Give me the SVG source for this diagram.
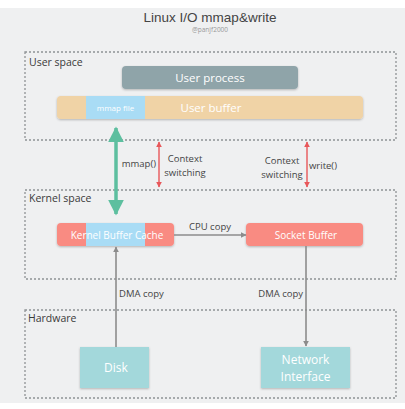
<svg xmlns="http://www.w3.org/2000/svg" width="405" height="409" viewBox="0 0 405 409">
<defs>
<style>
.t{font-family:"Open Sans","Noto Sans","Liberation Sans",sans-serif;}
.region{fill:none;stroke:#8e9295;stroke-width:1.3;stroke-dasharray:2,2;}
.rl{font-size:10.5px;fill:#3a3a3a;}
.wt{fill:#ffffff;text-anchor:middle;}
.lbl{font-size:9.5px;fill:#444;}
.gray{stroke:#8c8c8c;stroke-width:1.6;fill:none;}
.red{stroke:#e8575a;stroke-width:1.4;fill:none;}
.grn{stroke:#5dbf9f;stroke-width:3.5;fill:none;}
</style>
<marker id="ga" viewBox="0 0 10 10" refX="9" refY="5" markerWidth="6" markerHeight="6" orient="auto-start-reverse" markerUnits="userSpaceOnUse"><path d="M0,0 L10,5 L0,10 z" fill="#8c8c8c"/></marker>
<marker id="ra" viewBox="0 0 10 10" refX="9" refY="5" markerWidth="6" markerHeight="6" orient="auto-start-reverse" markerUnits="userSpaceOnUse"><path d="M0,0 L10,5 L0,10 z" fill="#e8575a"/></marker>
<marker id="gr" viewBox="0 0 10 10" refX="9" refY="5" markerWidth="16" markerHeight="17" orient="auto-start-reverse" markerUnits="userSpaceOnUse"><path d="M0,0 L10,5 L0,10 z" fill="#5dbf9f"/></marker>
<filter id="sh" x="-10%" y="-20%" width="120%" height="150%"><feDropShadow dx="0" dy="1" stdDeviation="0.8" flood-color="#000" flood-opacity="0.25"/></filter>
</defs>
<rect x="0" y="0" width="405" height="409" fill="#ffffff"/>
<rect x="0" y="8" width="405" height="395" fill="#eff0f1"/>
<text x="210" y="22" font-family="'Liberation Sans',Arial,sans-serif" font-size="13.5" fill="#444" text-anchor="middle">Linux I/O mmap&amp;write</text>
<text class="t" x="210" y="32" font-size="6.5" fill="#999" text-anchor="middle">@panjf2000</text>

<g id="user-space">
<rect class="region" x="25" y="52" width="371" height="88"/>
<text class="t rl" x="29" y="66">User space</text>
</g>
<g id="kernel-space">
<rect class="region" x="25" y="190" width="371" height="89"/>
<text class="t rl" x="29" y="202">Kernel space</text>
</g>
<g id="hardware">
<rect class="region" x="25" y="310" width="371" height="88"/>
<text class="t rl" x="28" y="322">Hardware</text>
</g>

<g id="user-process">
<rect x="122" y="66" width="176" height="23" rx="4" fill="#8fa4a9" filter="url(#sh)"/>
<text class="t wt" x="210" y="82" font-size="11.5">User process</text>
</g>
<g id="user-buffer">
<rect x="57" y="96" width="306" height="23" rx="4" fill="#f0d3a6" filter="url(#sh)"/>
<rect x="86" y="96" width="59" height="23" fill="#a9dcf5"/>
<text class="t wt" x="115.5" y="111" font-size="8">mmap file</text>
<text class="t wt" x="211" y="112" font-size="11.5">User buffer</text>
</g>
<g id="kernel-buffer-cache">
<rect x="57" y="223" width="117" height="23" rx="4" fill="#f98b82" filter="url(#sh)"/>
<rect x="86" y="223" width="59" height="23" fill="#a9dcf5"/>
<text class="t wt" x="117" y="238.5" font-size="10">Kernel Buffer Cache</text>
</g>
<g id="socket-buffer">
<rect x="246" y="223" width="117" height="23" rx="4" fill="#f98b82" filter="url(#sh)"/>
<text class="t wt" x="306" y="238.5" font-size="10">Socket Buffer</text>
</g>
<g id="disk">
<rect x="80" y="347" width="69" height="41" fill="#a3d8db" filter="url(#sh)"/>
<text class="t wt" x="116" y="372" font-size="12">Disk</text>
</g>
<g id="network-interface">
<rect x="261" y="347" width="89" height="41" fill="#a3d8db" filter="url(#sh)"/>
<text class="t wt" x="305.5" y="364" font-size="12">Network</text>
<text class="t wt" x="305.5" y="381" font-size="12">Interface</text>
</g>

<g id="connectors">
<line class="grn" x1="116" y1="128" x2="116" y2="214" marker-start="url(#gr)" marker-end="url(#gr)"/>
<text class="t lbl" x="156" y="167" text-anchor="end">mmap()</text>
<line class="red" x1="159" y1="142" x2="159" y2="187" marker-start="url(#ra)" marker-end="url(#ra)"/>
<text class="t lbl" x="185" y="162" text-anchor="middle">Context</text>
<text class="t lbl" x="185" y="176" text-anchor="middle">switching</text>
<line class="red" x1="307" y1="142" x2="307" y2="187" marker-start="url(#ra)" marker-end="url(#ra)"/>
<text class="t lbl" x="282" y="164" text-anchor="middle">Context</text>
<text class="t lbl" x="282" y="178" text-anchor="middle">switching</text>
<text class="t lbl" x="309" y="169">write()</text>
<line class="gray" x1="174" y1="235" x2="246" y2="235" marker-end="url(#ga)"/>
<text class="t lbl" x="210" y="230" text-anchor="middle">CPU copy</text>
<line class="gray" x1="116" y1="347" x2="116" y2="247" marker-end="url(#ga)"/>
<text class="t lbl" x="119" y="297">DMA copy</text>
<line class="gray" x1="306" y1="246" x2="306" y2="346" marker-end="url(#ga)"/>
<text class="t lbl" x="303" y="297" text-anchor="end">DMA copy</text>
</g>
</svg>
